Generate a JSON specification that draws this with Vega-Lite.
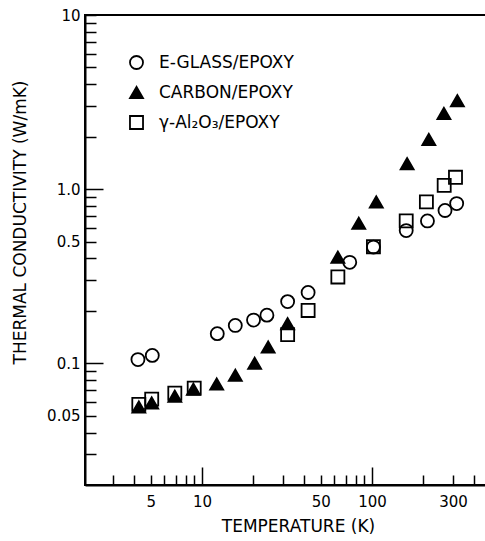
{
  "$schema": "https://vega.github.io/schema/vega-lite/v6.json",
  "width": 402,
  "height": 470,
  "autosize": {"type": "none"},
  "padding": {"left": 85, "top": 15, "right": 0, "bottom": 56},
  "background": "white",
  "config": {
    "view": {"stroke": "black", "strokeWidth": 2},
    "font": "DejaVu Sans",
    "legend": {
      "title": null,
      "orient": "none",
      "legendX": 43,
      "legendY": 39,
      "padding": 0,
      "symbolSize": 170,
      "symbolStrokeWidth": 1.8,
      "labelFontSize": 17,
      "labelColor": "black",
      "labelOffset": 14,
      "rowPadding": 10,
      "labelLimit": 300
    }
  },
  "data": {
    "values": [
      {"s": "E-GLASS/EPOXY", "T": 4.2, "k": 0.105},
      {"s": "E-GLASS/EPOXY", "T": 5.1, "k": 0.111},
      {"s": "E-GLASS/EPOXY", "T": 12.3, "k": 0.148},
      {"s": "E-GLASS/EPOXY", "T": 15.7, "k": 0.165},
      {"s": "E-GLASS/EPOXY", "T": 20.1, "k": 0.177},
      {"s": "E-GLASS/EPOXY", "T": 24.1, "k": 0.189},
      {"s": "E-GLASS/EPOXY", "T": 31.9, "k": 0.226},
      {"s": "E-GLASS/EPOXY", "T": 42.1, "k": 0.255},
      {"s": "E-GLASS/EPOXY", "T": 74, "k": 0.38},
      {"s": "E-GLASS/EPOXY", "T": 102, "k": 0.465},
      {"s": "E-GLASS/EPOXY", "T": 159, "k": 0.578},
      {"s": "E-GLASS/EPOXY", "T": 212, "k": 0.657},
      {"s": "E-GLASS/EPOXY", "T": 269, "k": 0.754},
      {"s": "E-GLASS/EPOXY", "T": 315, "k": 0.826},
      {"s": "CARBON/EPOXY", "T": 4.25, "k": 0.0561},
      {"s": "CARBON/EPOXY", "T": 5.06, "k": 0.0592},
      {"s": "CARBON/EPOXY", "T": 6.92, "k": 0.0648},
      {"s": "CARBON/EPOXY", "T": 8.9, "k": 0.071},
      {"s": "CARBON/EPOXY", "T": 12.2, "k": 0.076},
      {"s": "CARBON/EPOXY", "T": 15.7, "k": 0.0853},
      {"s": "CARBON/EPOXY", "T": 20.4, "k": 0.1},
      {"s": "CARBON/EPOXY", "T": 24.5, "k": 0.124},
      {"s": "CARBON/EPOXY", "T": 31.9, "k": 0.169},
      {"s": "CARBON/EPOXY", "T": 63, "k": 0.407},
      {"s": "CARBON/EPOXY", "T": 83.6, "k": 0.637},
      {"s": "CARBON/EPOXY", "T": 106, "k": 0.845},
      {"s": "CARBON/EPOXY", "T": 161, "k": 1.4},
      {"s": "CARBON/EPOXY", "T": 216, "k": 1.93},
      {"s": "CARBON/EPOXY", "T": 265, "k": 2.72},
      {"s": "CARBON/EPOXY", "T": 318, "k": 3.22},
      {"s": "γ-Al₂O₃/EPOXY", "T": 4.25, "k": 0.0581},
      {"s": "γ-Al₂O₃/EPOXY", "T": 5.06, "k": 0.0622},
      {"s": "γ-Al₂O₃/EPOXY", "T": 6.92, "k": 0.0673},
      {"s": "γ-Al₂O₃/EPOXY", "T": 9.0, "k": 0.072},
      {"s": "γ-Al₂O₃/EPOXY", "T": 31.9, "k": 0.146},
      {"s": "γ-Al₂O₃/EPOXY", "T": 42.1, "k": 0.201},
      {"s": "γ-Al₂O₃/EPOXY", "T": 63, "k": 0.313},
      {"s": "γ-Al₂O₃/EPOXY", "T": 102, "k": 0.467},
      {"s": "γ-Al₂O₃/EPOXY", "T": 159, "k": 0.657},
      {"s": "γ-Al₂O₃/EPOXY", "T": 209, "k": 0.845},
      {"s": "γ-Al₂O₃/EPOXY", "T": 266, "k": 1.05},
      {"s": "γ-Al₂O₃/EPOXY", "T": 310, "k": 1.17}
    ]
  },
  "mark": {"type": "point", "size": 170, "strokeWidth": 1.8, "opacity": 1},
  "encoding": {
    "x": {
      "field": "T",
      "type": "quantitative",
      "scale": {"type": "log", "domain": [2.05, 475], "nice": false},
      "axis": {
        "title": "TEMPERATURE (K)",
        "values": [3, 4, 5, 6, 7, 8, 9, 10, 20, 30, 40, 50, 60, 70, 80, 90, 100, 200, 300, 400],
        "labelExpr": "indexof([5, 10, 50, 100, 300], datum.value) >= 0 ? toString(datum.value) : ''",
        "tickSize": {"condition": {"test": "datum.value == 10 || datum.value == 100", "value": -18}, "value": -10},
        "labelPadding": {"condition": {"test": "datum.value == 10 || datum.value == 100", "value": 27}, "value": 19},
        "tickWidth": 1.5,
        "tickColor": "black",
        "domainColor": "black",
        "domainWidth": 2,
        "grid": false,
        "labelFontSize": 15,
        "labelColor": "black",
        "labelFlush": false,
        "labelOverlap": false,
        "titleFontSize": 17,
        "titleFontWeight": "normal",
        "titleColor": "black",
        "titleX": 213,
        "titleY": 41,
        "titleBaseline": "middle",
        "titleAlign": "center"
      }
    },
    "y": {
      "field": "k",
      "type": "quantitative",
      "scale": {"type": "log", "domain": [0.02, 10], "nice": false},
      "axis": {
        "title": "THERMAL CONDUCTIVITY (W/mK)",
        "values": [0.03, 0.04, 0.05, 0.06, 0.07, 0.08, 0.09, 0.1, 0.2, 0.3, 0.4, 0.5, 0.6, 0.7, 0.8, 0.9, 1, 2, 3, 4, 5, 6, 7, 8, 9, 10],
        "labelExpr": "datum.value == 10 ? '10' : datum.value == 1 ? '1.0' : datum.value == 0.5 ? '0.5' : datum.value == 0.1 ? '0.1' : datum.value == 0.05 ? '0.05' : ''",
        "tickSize": {"condition": {"test": "datum.value == 0.1 || datum.value == 1", "value": -18}, "value": -11},
        "labelPadding": {"condition": {"test": "datum.value == 0.1 || datum.value == 1", "value": 23}, "value": 16},
        "tickWidth": 1.5,
        "tickColor": "black",
        "domainColor": "black",
        "domainWidth": 2,
        "grid": false,
        "labelFontSize": 15,
        "labelColor": "black",
        "labelFlush": false,
        "labelOverlap": false,
        "titleFontSize": 17,
        "titleFontWeight": "normal",
        "titleColor": "black",
        "titleX": -65,
        "titleY": 207,
        "titleBaseline": "middle",
        "titleAlign": "center"
      }
    },
    "shape": {
      "field": "s",
      "type": "nominal",
      "scale": {"domain": ["E-GLASS/EPOXY", "CARBON/EPOXY", "γ-Al₂O₃/EPOXY"], "range": ["circle", "triangle-up", "square"]}
    },
    "fill": {
      "field": "s",
      "type": "nominal",
      "scale": {"domain": ["E-GLASS/EPOXY", "CARBON/EPOXY", "γ-Al₂O₃/EPOXY"], "range": ["transparent", "black", "transparent"]}
    },
    "stroke": {
      "field": "s",
      "type": "nominal",
      "scale": {"domain": ["E-GLASS/EPOXY", "CARBON/EPOXY", "γ-Al₂O₃/EPOXY"], "range": ["black", "black", "black"]}
    }
  }
}
